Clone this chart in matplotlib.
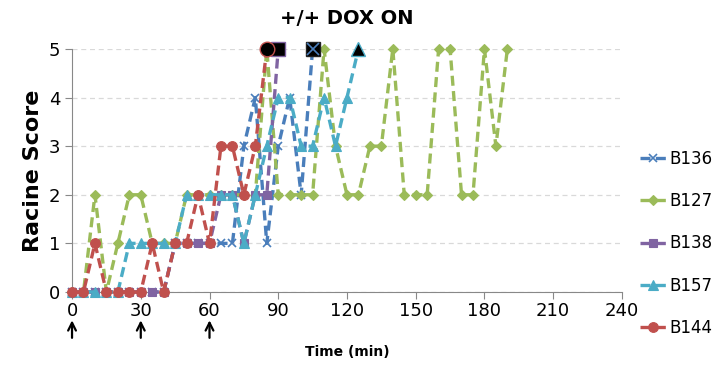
import matplotlib
matplotlib.use("Agg")
import matplotlib.pyplot as plt

# time points (min), every 5 minutes
time_b136 = [0, 5, 10, 15, 20, 25, 30, 35, 40, 45, 50, 55, 60, 65, 70, 75, 80, 85, 90, 95, 100, 105]
score_b136 = [0, 0, 0, 0, 0, 0, 0, 0, 0, 1, 1, 1, 1, 1, 1, 3, 4, 1, 3, 4, 2, 5]

time_b127 = [0, 5, 10, 15, 20, 25, 30, 35, 40, 45, 50, 55, 60, 65, 70, 75, 80, 85, 90, 95, 100,
             105, 110, 115, 120, 125, 130, 135, 140, 145, 150, 155, 160, 165, 170, 175, 180, 185, 190]
score_b127 = [0, 0, 2, 0, 1, 2, 2, 1, 1, 1, 2, 2, 2, 2, 2, 2, 2, 5, 2, 2, 2,
              2, 5, 3, 2, 2, 3, 3, 5, 2, 2, 2, 5, 5, 2, 2, 5, 3, 5]

time_b138 = [0, 5, 10, 15, 20, 25, 30, 35, 40, 45, 50, 55, 60, 65, 70, 75, 80, 85, 90]
score_b138 = [0, 0, 0, 0, 0, 0, 0, 0, 0, 1, 1, 1, 1, 2, 2, 1, 2, 2, 5]

time_b157 = [0, 5, 10, 15, 20, 25, 30, 35, 40, 45, 50, 55, 60, 65, 70, 75, 80, 85, 90, 95, 100,
             105, 110, 115, 120, 125]
score_b157 = [0, 0, 0, 0, 0, 1, 1, 1, 1, 1, 2, 2, 2, 2, 2, 1, 2, 3, 4, 4, 3,
              3, 4, 3, 4, 5]

time_b144 = [0, 5, 10, 15, 20, 25, 30, 35, 40, 45, 50, 55, 60, 65, 70, 75, 80, 85]
score_b144 = [0, 0, 1, 0, 0, 0, 0, 1, 0, 1, 1, 2, 1, 3, 3, 2, 3, 5]

dox_times = [0, 30, 60]

series = [
    ("B136", time_b136, score_b136, "#4A7EBB", "x"),
    ("B127", time_b127, score_b127, "#9BBB59", "D"),
    ("B138", time_b138, score_b138, "#8064A2", "s"),
    ("B157", time_b157, score_b157, "#4BACC6", "^"),
    ("B144", time_b144, score_b144, "#C0504D", "o"),
]
end_marker = {"B136": "X", "B138": "s", "B157": "^", "B144": "o"}
marker_size = {"x": 6, "D": 5, "s": 6, "^": 6.5, "o": 7}

fig = plt.figure(figsize=(7.16, 3.65), dpi=100)
ax = fig.add_axes([0.1006, 0.2, 0.768, 0.666])

for name, t, y, color, marker in series:
    ax.plot(t, y, linestyle=(0, (3, 1.6)), linewidth=2.4, color=color,
            marker=marker, markersize=marker_size[marker],
            markeredgewidth=1.2 if marker == "x" else 0.8,
            label=name, clip_on=False, zorder=3)
    # seizure end point drawn black
    if name in end_marker:
        em = end_marker[name]
        if em == "X":
            ax.plot(t[-1], y[-1], marker="s", markersize=10.5, color="black",
                    markeredgecolor="#222222", clip_on=False, zorder=4)
            ax.plot(t[-1], y[-1], marker="x", markersize=8, color=color,
                    markeredgewidth=1.2, clip_on=False, zorder=5)
        else:
            ax.plot(t[-1], y[-1], marker=em, markersize=10.5, color="black",
                    markeredgecolor=color, markeredgewidth=1.0, clip_on=False, zorder=4)

ax.set_xlim(0, 240)
ax.set_ylim(0, 5)
ax.set_xticks(range(0, 241, 30))
ax.set_yticks(range(0, 6))
ax.tick_params(axis="both", labelsize=13, color="#888888", length=5)
ax.tick_params(axis="x", pad=2)
ax.yaxis.grid(True, linestyle=(0, (4, 3)), color="#d9d9d9", linewidth=0.9)
ax.set_axisbelow(True)
for side in ["top", "right"]:
    ax.spines[side].set_visible(False)
for side in ["left", "bottom"]:
    ax.spines[side].set_color("#888888")

ax.set_ylabel("Racine Score", fontsize=16, fontweight="bold")
ax.set_xlabel("Time (min)", fontsize=10, fontweight="bold", labelpad=18)
ax.set_title("+/+ DOX ON", fontsize=14, fontweight="bold", pad=18)

# dox injection arrows
for t in dox_times:
    ax.annotate("", xy=(t, -0.105), xytext=(t, -0.2),
                xycoords=ax.get_xaxis_transform(), textcoords=ax.get_xaxis_transform(),
                arrowprops=dict(arrowstyle="->", color="black", lw=1.6,
                                mutation_scale=14), annotation_clip=False)

ax.legend(loc="center left", bbox_to_anchor=(1.023, 0.2), frameon=False,
          fontsize=12, labelspacing=1.45, handlelength=1.6, handletextpad=0.2,
          borderpad=0.0, borderaxespad=0.3)

fig.savefig("out.png", dpi=100)
